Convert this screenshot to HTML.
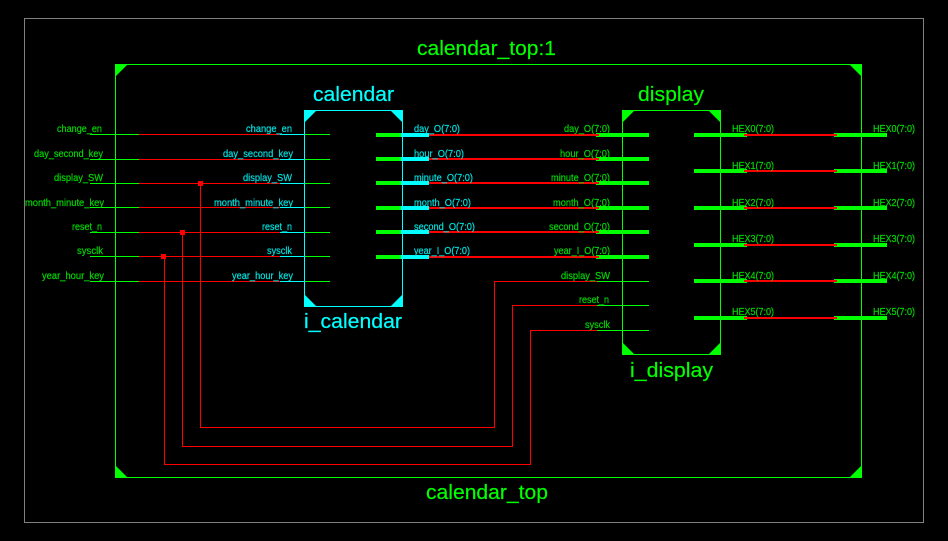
<!DOCTYPE html>
<html><head><meta charset="utf-8"><style>
html,body{margin:0;padding:0;background:#000;width:948px;height:541px;overflow:hidden}
svg{display:block}
text{font-family:"Liberation Sans",sans-serif}
.s{font-size:10px;fill:#00d800;stroke:#00d800;stroke-width:.2px}
.c{font-size:10px;fill:#00e0e0;stroke:#00e0e0;stroke-width:.2px}
.t{font-size:20px;fill:#00ff00;stroke:#00ff00;stroke-width:.2px}
.tc{font-size:20px;fill:#00ffff;stroke:#00ffff;stroke-width:.2px}
</style></head><body>
<svg width="948" height="541" viewBox="0 0 948 541" shape-rendering="crispEdges">
<rect width="948" height="541" fill="#000"/>
<rect x="24.5" y="18.5" width="899" height="504" fill="none" stroke="#808080"/>
<rect x="115.5" y="64.5" width="746" height="413" fill="none" stroke="#00ff00"/>
<g fill="#00ff00" shape-rendering="auto">
<path d="M115 64h13l-13 13z"/><path d="M862 64h-13l13 13z"/><path d="M115 478h13l-13-13z"/><path d="M862 478h-13l13-13z"/>
</g>

<!-- thin left nets -->
<g fill="#00ff00">
<rect x="90" y="134" width="50" height="1"/><rect x="90" y="159" width="50" height="1"/><rect x="90" y="183" width="50" height="1"/><rect x="90" y="207" width="50" height="1"/><rect x="90" y="232" width="50" height="1"/><rect x="90" y="256" width="50" height="1"/><rect x="90" y="281" width="50" height="1"/>
<rect x="280" y="134" width="50" height="1"/><rect x="280" y="159" width="50" height="1"/><rect x="280" y="183" width="50" height="1"/><rect x="280" y="207" width="50" height="1"/><rect x="280" y="232" width="50" height="1"/><rect x="280" y="256" width="50" height="1"/><rect x="280" y="281" width="50" height="1"/>
<rect x="597" y="281" width="52" height="1"/><rect x="597" y="305" width="52" height="1"/><rect x="597" y="330" width="52" height="1"/>
</g>
<g fill="#00ffff">
<rect x="280" y="134" width="25" height="1"/><rect x="280" y="159" width="25" height="1"/><rect x="280" y="183" width="25" height="1"/><rect x="280" y="207" width="25" height="1"/><rect x="280" y="232" width="25" height="1"/><rect x="280" y="256" width="25" height="1"/><rect x="280" y="281" width="25" height="1"/>
</g>
<g fill="#ff0000">
<rect x="139" y="134" width="141" height="1"/><rect x="139" y="159" width="141" height="1"/><rect x="139" y="183" width="141" height="1"/><rect x="139" y="207" width="141" height="1"/><rect x="139" y="232" width="141" height="1"/><rect x="139" y="256" width="141" height="1"/><rect x="139" y="281" width="141" height="1"/>
<rect x="198" y="181" width="5" height="5"/><rect x="180" y="230" width="5" height="5"/><rect x="161" y="254" width="5" height="5"/>
</g>
<g fill="none" stroke="#ff0000">
<path d="M200.5 183V427.500H494.500V281.500H597"/>
<path d="M182.500 232V446.500H512.500V305.500H597"/>
<path d="M164.500 256V464.500H530.500V330.500H597"/>
</g>

<!-- buses calendar to display -->
<g fill="#00ff00">
<rect x="376" y="133" width="26" height="4"/><rect x="376" y="157" width="26" height="4"/><rect x="376" y="181" width="26" height="4"/><rect x="376" y="206" width="26" height="4"/><rect x="376" y="230" width="26" height="4"/><rect x="376" y="255" width="26" height="4"/>
<rect x="596" y="133" width="53" height="4"/><rect x="596" y="157" width="53" height="4"/><rect x="596" y="181" width="53" height="4"/><rect x="596" y="206" width="53" height="4"/><rect x="596" y="230" width="53" height="4"/><rect x="596" y="255" width="53" height="4"/>
</g>
<g fill="#00ffff">
<rect x="401" y="133" width="28" height="4"/><rect x="401" y="157" width="28" height="4"/><rect x="401" y="181" width="28" height="4"/><rect x="401" y="206" width="28" height="4"/><rect x="401" y="230" width="28" height="4"/><rect x="401" y="255" width="28" height="4"/>
</g>
<g fill="#ff0000">
<rect x="429" y="134" width="170" height="2"/><rect x="429" y="158" width="170" height="2"/><rect x="429" y="182" width="170" height="2"/><rect x="429" y="207" width="170" height="2"/><rect x="429" y="231" width="170" height="2"/><rect x="429" y="256" width="170" height="2"/>
</g>

<!-- display output buses -->
<g fill="#00ff00">
<rect x="694" y="133" width="53" height="4"/><rect x="694" y="169" width="53" height="4"/><rect x="694" y="206" width="53" height="4"/><rect x="694" y="243" width="53" height="4"/><rect x="694" y="279" width="53" height="4"/><rect x="694" y="316" width="53" height="4"/>
<rect x="834" y="133" width="53" height="4"/><rect x="834" y="169" width="53" height="4"/><rect x="834" y="206" width="53" height="4"/><rect x="834" y="243" width="53" height="4"/><rect x="834" y="279" width="53" height="4"/><rect x="834" y="316" width="53" height="4"/>
</g>
<g fill="#ff0000">
<rect x="744" y="134" width="93" height="2"/><rect x="744" y="170" width="93" height="2"/><rect x="744" y="207" width="93" height="2"/><rect x="744" y="244" width="93" height="2"/><rect x="744" y="280" width="93" height="2"/><rect x="744" y="317" width="93" height="2"/>
</g>

<!-- modules -->
<rect x="304.500" y="110.500" width="98" height="196" fill="none" stroke="#00ffff"/>
<g fill="#00ffff" shape-rendering="auto">
<path d="M304 110h13l-13 13z"/><path d="M403 110h-13l13 13z"/><path d="M304 307h13l-13-13z"/><path d="M403 307h-13l13-13z"/>
</g>
<rect x="622.500" y="110.500" width="98" height="244" fill="none" stroke="#00ff00"/>
<g fill="#00ff00" shape-rendering="auto">
<path d="M622 110h13l-13 13z"/><path d="M721 110h-13l13 13z"/><path d="M622 355h13l-13-13z"/><path d="M721 355h-13l13-13z"/>
</g>

<!-- titles -->
<text class="t" x="417" y="55" textLength="139" lengthAdjust="spacingAndGlyphs">calendar_top:1</text>
<text class="t" x="426" y="499" textLength="122" lengthAdjust="spacingAndGlyphs">calendar_top</text>
<text class="tc" x="313" y="101" textLength="81" lengthAdjust="spacingAndGlyphs">calendar</text>
<text class="tc" x="304" y="328" textLength="98" lengthAdjust="spacingAndGlyphs">i_calendar</text>
<text class="t" x="638" y="101" textLength="66" lengthAdjust="spacingAndGlyphs">display</text>
<text class="t" x="630" y="377" textLength="83" lengthAdjust="spacingAndGlyphs">i_display</text>

<!-- left ports -->
<text class="s" x="57" y="132" textLength="45" lengthAdjust="spacingAndGlyphs">change_en</text>
<text class="s" x="34" y="157" textLength="69" lengthAdjust="spacingAndGlyphs">day_second_key</text>
<text class="s" x="54" y="181" textLength="49" lengthAdjust="spacingAndGlyphs">display_SW</text>
<text class="s" x="25" y="206" textLength="79" lengthAdjust="spacingAndGlyphs">month_minute_key</text>
<text class="s" x="72" y="230" textLength="30" lengthAdjust="spacingAndGlyphs">reset_n</text>
<text class="s" x="77" y="254" textLength="26" lengthAdjust="spacingAndGlyphs">sysclk</text>
<text class="s" x="42" y="279" textLength="62" lengthAdjust="spacingAndGlyphs">year_hour_key</text>

<text class="c" x="246" y="132" textLength="46" lengthAdjust="spacingAndGlyphs">change_en</text>
<text class="c" x="223" y="157" textLength="70" lengthAdjust="spacingAndGlyphs">day_second_key</text>
<text class="c" x="243" y="181" textLength="49" lengthAdjust="spacingAndGlyphs">display_SW</text>
<text class="c" x="214" y="206" textLength="79" lengthAdjust="spacingAndGlyphs">month_minute_key</text>
<text class="c" x="262" y="230" textLength="30" lengthAdjust="spacingAndGlyphs">reset_n</text>
<text class="c" x="267" y="254" textLength="25" lengthAdjust="spacingAndGlyphs">sysclk</text>
<text class="c" x="232" y="279" textLength="61" lengthAdjust="spacingAndGlyphs">year_hour_key</text>

<!-- calendar outputs -->
<text class="c" x="414" y="132" textLength="46" lengthAdjust="spacingAndGlyphs">day_O(7:0)</text>
<text class="c" x="414" y="157" textLength="50" lengthAdjust="spacingAndGlyphs">hour_O(7:0)</text>
<text class="c" x="414" y="181" textLength="59" lengthAdjust="spacingAndGlyphs">minute_O(7:0)</text>
<text class="c" x="414" y="206" textLength="57" lengthAdjust="spacingAndGlyphs">month_O(7:0)</text>
<text class="c" x="414" y="230" textLength="61" lengthAdjust="spacingAndGlyphs">second_O(7:0)</text>
<text class="c" x="414" y="254" textLength="56" lengthAdjust="spacingAndGlyphs">year_I_O(7:0)</text>

<!-- display inputs -->
<text class="s" x="564" y="132" textLength="46" lengthAdjust="spacingAndGlyphs">day_O(7:0)</text>
<text class="s" x="560" y="157" textLength="50" lengthAdjust="spacingAndGlyphs">hour_O(7:0)</text>
<text class="s" x="551" y="181" textLength="59" lengthAdjust="spacingAndGlyphs">minute_O(7:0)</text>
<text class="s" x="553" y="206" textLength="57" lengthAdjust="spacingAndGlyphs">month_O(7:0)</text>
<text class="s" x="549" y="230" textLength="61" lengthAdjust="spacingAndGlyphs">second_O(7:0)</text>
<text class="s" x="554" y="254" textLength="56" lengthAdjust="spacingAndGlyphs">year_I_O(7:0)</text>
<text class="s" x="561" y="279" textLength="49" lengthAdjust="spacingAndGlyphs">display_SW</text>
<text class="s" x="579" y="303" textLength="30" lengthAdjust="spacingAndGlyphs">reset_n</text>
<text class="s" x="585" y="328" textLength="25" lengthAdjust="spacingAndGlyphs">sysclk</text>

<!-- HEX -->
<text class="s" x="732" y="132" textLength="42" lengthAdjust="spacingAndGlyphs">HEX0(7:0)</text>
<text class="s" x="732" y="169" textLength="42" lengthAdjust="spacingAndGlyphs">HEX1(7:0)</text>
<text class="s" x="732" y="206" textLength="42" lengthAdjust="spacingAndGlyphs">HEX2(7:0)</text>
<text class="s" x="732" y="242" textLength="42" lengthAdjust="spacingAndGlyphs">HEX3(7:0)</text>
<text class="s" x="732" y="279" textLength="42" lengthAdjust="spacingAndGlyphs">HEX4(7:0)</text>
<text class="s" x="732" y="315" textLength="42" lengthAdjust="spacingAndGlyphs">HEX5(7:0)</text>
<text class="s" x="873" y="132" textLength="42" lengthAdjust="spacingAndGlyphs">HEX0(7:0)</text>
<text class="s" x="873" y="169" textLength="42" lengthAdjust="spacingAndGlyphs">HEX1(7:0)</text>
<text class="s" x="873" y="206" textLength="42" lengthAdjust="spacingAndGlyphs">HEX2(7:0)</text>
<text class="s" x="873" y="242" textLength="42" lengthAdjust="spacingAndGlyphs">HEX3(7:0)</text>
<text class="s" x="873" y="279" textLength="42" lengthAdjust="spacingAndGlyphs">HEX4(7:0)</text>
<text class="s" x="873" y="315" textLength="42" lengthAdjust="spacingAndGlyphs">HEX5(7:0)</text>
</svg>
</body></html>
